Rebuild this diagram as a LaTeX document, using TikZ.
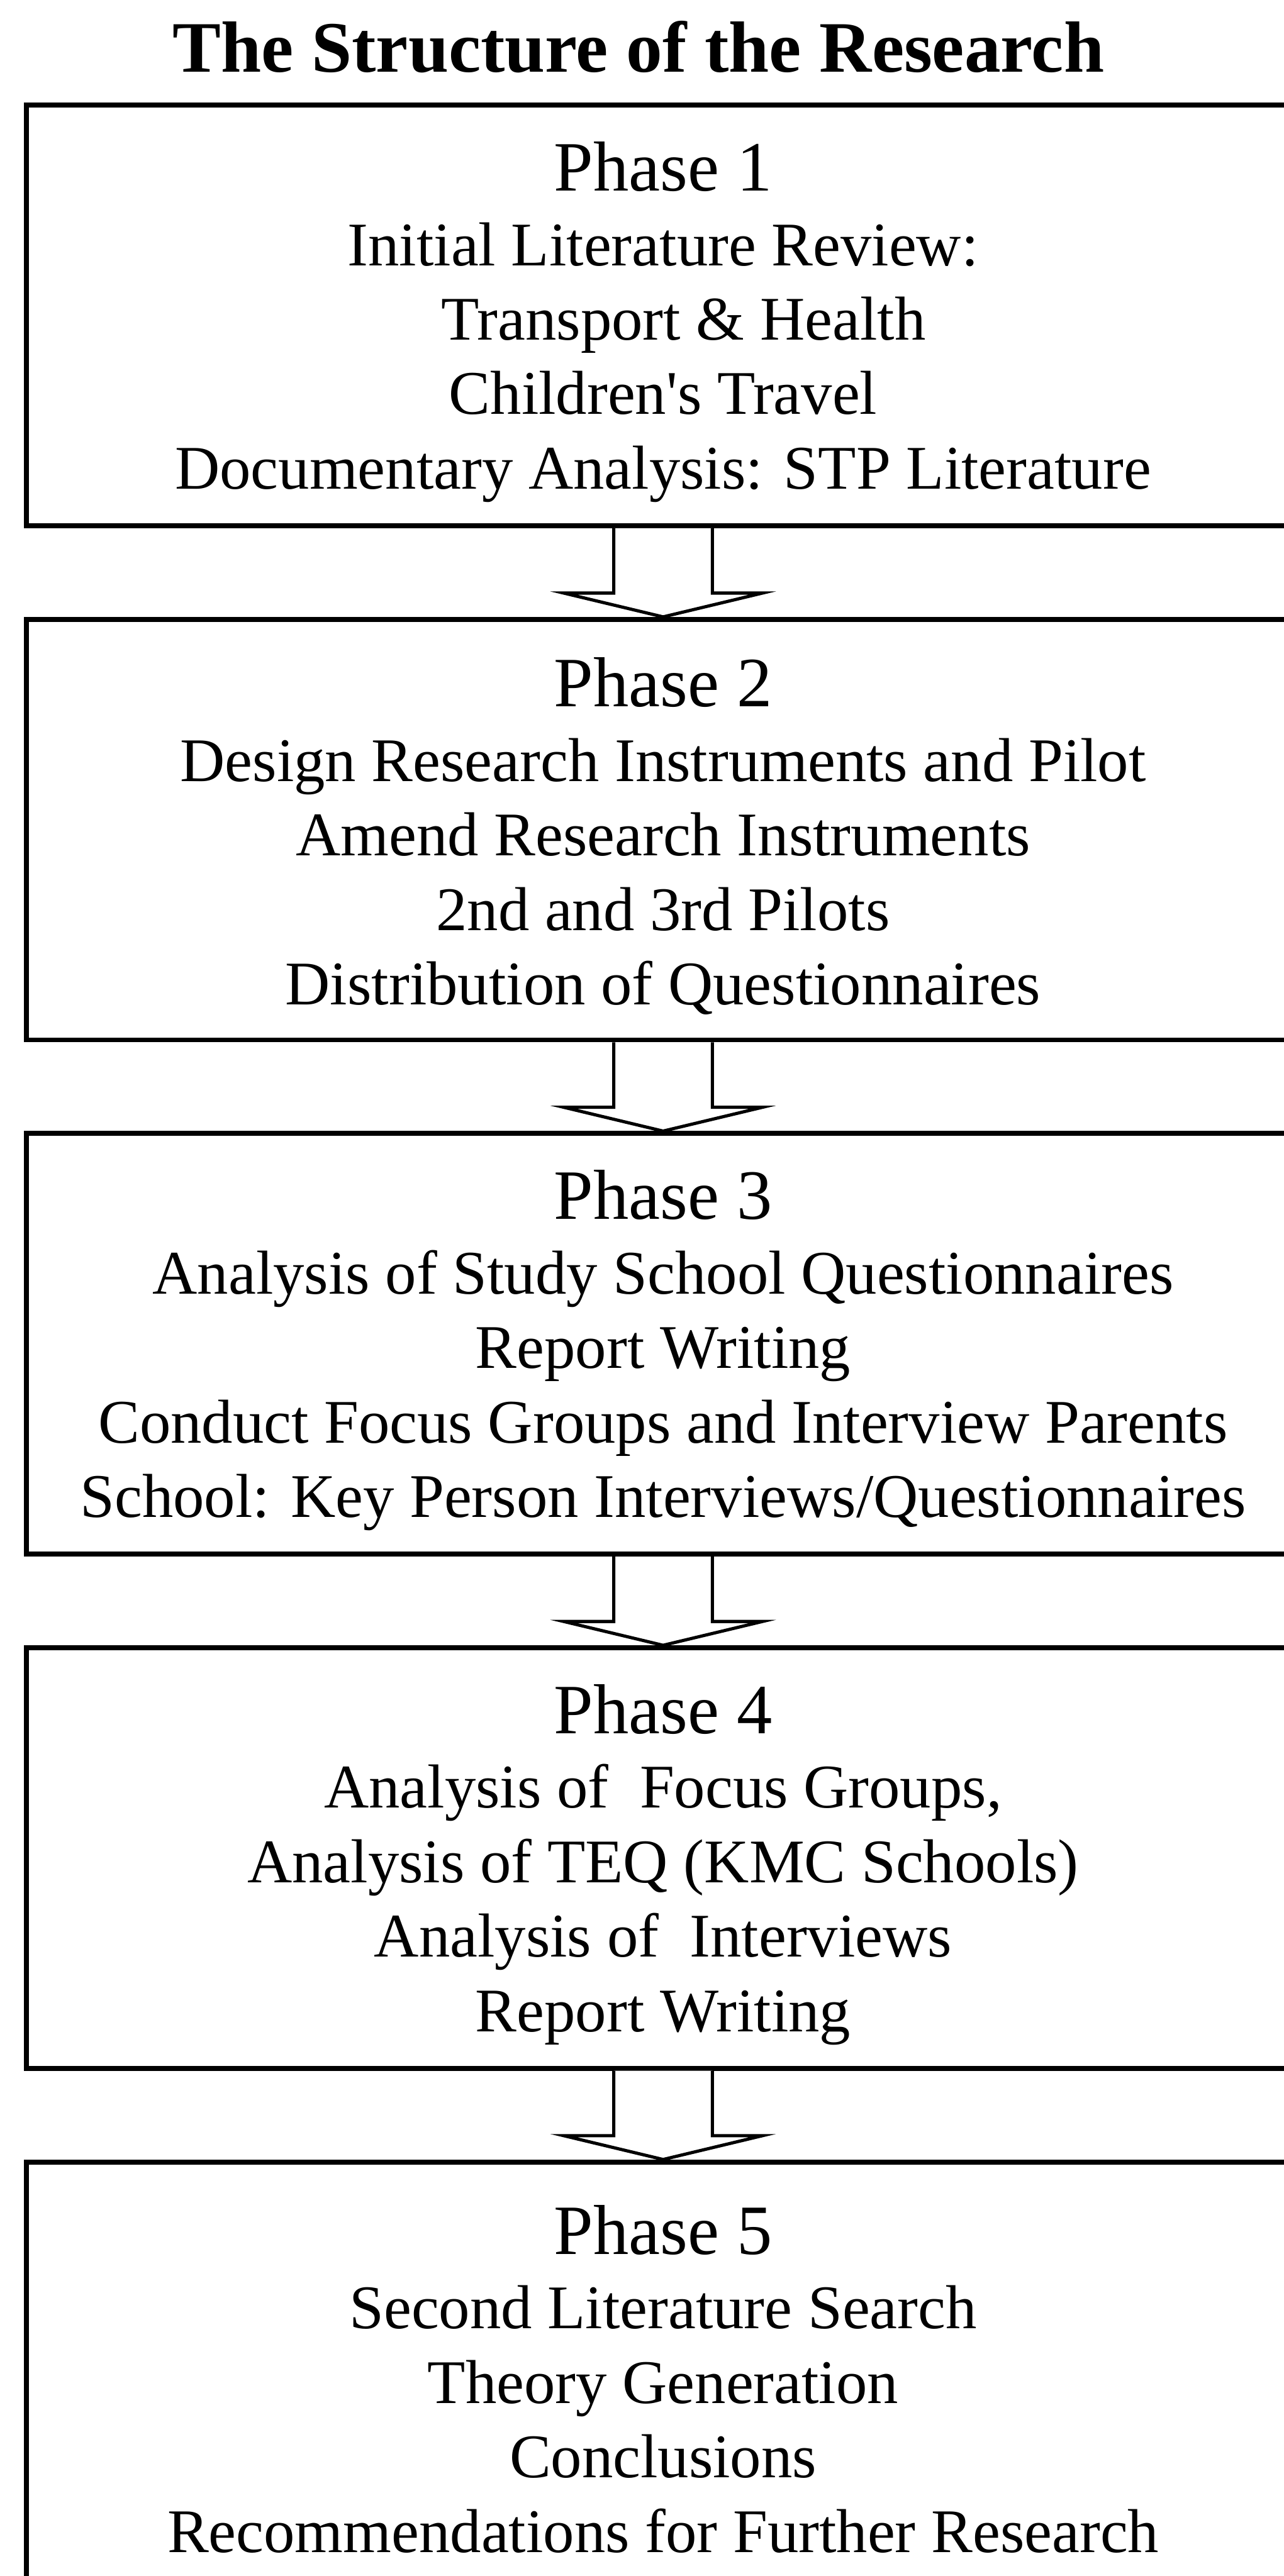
\documentclass[tikz,border=0pt]{standalone}
\usepackage{fontspec}
\setmainfont{Liberation Serif}
\usetikzlibrary{positioning,calc}

% hollow block arrow from the bottom of one phase to the top of the next
\newcommand{\phasearrow}[2]{%
    \draw [flow] ($(#1.south)+(-0.6,0)$) -- ($(#2.north)+(-0.6,0.29)$)
        -- ($(#2.north)+(-1.21,0.29)$) -- (#2.north)
        -- ($(#2.north)+(1.21,0.29)$) -- ($(#2.north)+(0.6,0.29)$)
        -- ($(#1.south)+(0.6,0)$);}
% first line of a phase box
\newcommand{\phasehead}[1]{{\fontsize{24.5}{28}\selectfont\rule{0pt}{0.76cm}#1}}

\begin{document}
\begin{tikzpicture}[node distance=1.08cm,
    phase/.style={draw, line width=1.7pt, minimum width=15.5cm, minimum height=5.12cm,
        align=center, font=\fontsize{21.5}{25.8}\selectfont},
    flow/.style={fill=white, line width=1.1pt, line join=miter}]
    \useasboundingbox (0,0) rectangle (15.62,-31.36);

    % Title
    \node [anchor=base, font=\bfseries\fontsize{25.1}{28}\selectfont] (title) at (7.77,-0.88)
        {The Structure of the Research};

    % Phases {p1, p2, p3, p4, p5}
    \node [phase] (p1) at (8.07,-3.84)
        {\phasehead{Phase 1}\\
         Initial Literature Review:\\
         \hspace*{0.5cm}Transport \& Health\\
         Children{\textquotesingle}s Travel\\
         Documentary Analysis: STP Literature};
    \node [phase] (p2) [below=of p1]
        {\phasehead{Phase 2}\\
         Design Research Instruments and Pilot\\
         Amend Research Instruments\\
         2nd and 3rd Pilots\\
         Distribution of Questionnaires};
    \node [phase] (p3) [below=of p2]
        {\phasehead{Phase 3}\\
         Analysis of Study School Questionnaires\\
         Report Writing\\
         Conduct Focus Groups and Interview Parents\\
         School: Key Person Interviews/Questionnaires};
    \node [phase] (p4) [below=of p3]
        {\phasehead{Phase 4}\\
         Analysis of~ Focus Groups,\\
         Analysis of TEQ (KMC Schools)\\
         Analysis of~ Interviews\\
         Report Writing};
    \node [phase] (p5) [below=of p4]
        {\phasehead{Phase 5}\\
         Second Literature Search\\
         Theory Generation\\
         Conclusions\\
         Recommendations for Further Research};

    % Arrows
    \phasearrow{p1}{p2}
    \phasearrow{p2}{p3}
    \phasearrow{p3}{p4}
    \phasearrow{p4}{p5}
\end{tikzpicture}
\end{document}
